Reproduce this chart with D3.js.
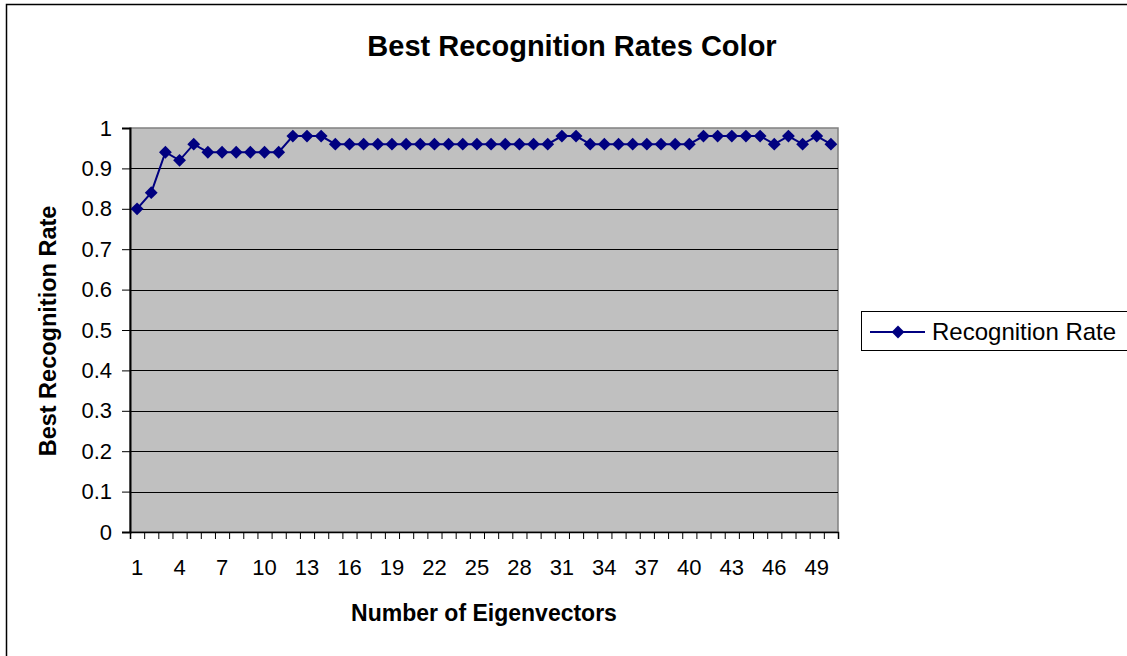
<!DOCTYPE html>
<html>
<head>
<meta charset="utf-8">
<script src="https://cdn.jsdelivr.net/npm/d3@7"></script>
<style>
  body { margin: 0; background: #fff; }
  text { font-family: Arial, "Liberation Sans", sans-serif; fill: #000; }
</style>
</head>
<body>
<div id="chart"></div>
<script>
var categories = d3.range(1, 51);
var rates = [0.80, 0.84, 0.94, 0.92, 0.96, 0.94, 0.94, 0.94, 0.94, 0.94,
             0.94, 0.98, 0.98, 0.98, 0.96, 0.96, 0.96, 0.96, 0.96, 0.96,
             0.96, 0.96, 0.96, 0.96, 0.96, 0.96, 0.96, 0.96, 0.96, 0.96,
             0.98, 0.98, 0.96, 0.96, 0.96, 0.96, 0.96, 0.96, 0.96, 0.96,
             0.98, 0.98, 0.98, 0.98, 0.98, 0.96, 0.98, 0.96, 0.98, 0.96];
var yTicks = [0, 0.1, 0.2, 0.3, 0.4, 0.5, 0.6, 0.7, 0.8, 0.9, 1];
var xLabels = [1, 4, 7, 10, 13, 16, 19, 22, 25, 28, 31, 34, 37, 40, 43, 46, 49];

var W = 1127, H = 656;
var plot = {left: 130, top: 128, right: 838, bottom: 532};
var navy = "#000080";

var svg = d3.select("#chart").append("svg")
    .attr("width", W)
    .attr("height", H);

// outer chart frame
svg.append("rect")
    .attr("x", 6.5).attr("y", 4.5)
    .attr("width", 1300).attr("height", 800)
    .attr("fill", "#fff")
    .attr("stroke", "#000")
    .attr("stroke-width", 1.5);

var x = d3.scaleBand()
    .domain(categories)
    .range([plot.left, plot.right]);

var y = d3.scaleLinear()
    .domain([0, 1])
    .range([plot.bottom, plot.top]);

// plot background
svg.append("rect")
    .attr("x", plot.left).attr("y", plot.top)
    .attr("width", plot.right - plot.left)
    .attr("height", plot.bottom - plot.top)
    .attr("fill", "#c0c0c0")
    .attr("stroke", "#808080")
    .attr("stroke-width", 1.5);

// gridlines
svg.append("g")
  .selectAll("line")
  .data(yTicks.filter(function(d){ return d > 0 && d < 1; }))
  .enter().append("line")
    .attr("x1", plot.left).attr("x2", plot.right)
    .attr("y1", function(d){ return Math.round(y(d)) + 0.5; })
    .attr("y2", function(d){ return Math.round(y(d)) + 0.5; })
    .attr("stroke", "#000")
    .attr("stroke-width", 1);

// y axis
var yAxis = d3.axisLeft(y)
    .tickValues(yTicks)
    .tickSize(8)
    .tickPadding(10)
    .tickFormat(function(d){ return d3.format("")(+d.toFixed(1)); });

var gy = svg.append("g")
    .attr("transform", "translate(" + plot.left + ",0)")
    .call(yAxis);
gy.select(".domain").attr("stroke", "#000").attr("stroke-width", 2);
gy.selectAll(".tick line").attr("stroke", "#000");
gy.selectAll(".tick text")
    .style("font-size", "22px")
    .attr("fill", "#000");

// x axis: ticks between categories, labels every third category
var xBounds = d3.scaleLinear().domain([0, 50]).range([plot.left, plot.right]);
var gx = svg.append("g")
    .attr("transform", "translate(0," + plot.bottom + ")")
    .call(d3.axisBottom(xBounds).tickValues(d3.range(0, 51)).tickSize(7).tickFormat(""));
gx.select(".domain").attr("stroke", "#000").attr("stroke-width", 1.5);
gx.selectAll(".tick line").attr("stroke", "#000");

svg.append("g")
  .selectAll("text")
  .data(xLabels)
  .enter().append("text")
    .attr("x", function(d){ return x(d) + x.bandwidth() / 2; })
    .attr("y", 575)
    .attr("text-anchor", "middle")
    .style("font-size", "22px")
    .text(function(d){ return d; });

// line and markers
var line = d3.line()
    .x(function(d, i){ return x(categories[i]) + x.bandwidth() / 2; })
    .y(function(d){ return y(d); });

svg.append("path")
    .datum(rates)
    .attr("d", line)
    .attr("fill", "none")
    .attr("stroke", navy)
    .attr("stroke-width", 2);

var diamond = d3.symbol().type(d3.symbolDiamond2).size(105);

svg.append("g")
  .selectAll("path")
  .data(rates)
  .enter().append("path")
    .attr("d", diamond)
    .attr("transform", function(d, i){
        return "translate(" + (x(categories[i]) + x.bandwidth() / 2) + "," + y(d) + ")";
    })
    .attr("fill", navy);

// titles
svg.append("text")
    .attr("x", 572).attr("y", 56)
    .attr("text-anchor", "middle")
    .style("font-size", "29px")
    .style("font-weight", "bold")
    .text("Best Recognition Rates Color");

svg.append("text")
    .attr("x", (plot.left + plot.right) / 2).attr("y", 621)
    .attr("text-anchor", "middle")
    .style("font-size", "23px")
    .style("font-weight", "bold")
    .text("Number of Eigenvectors");

svg.append("text")
    .attr("transform", "translate(56,331) rotate(-90)")
    .attr("text-anchor", "middle")
    .style("font-size", "23.5px")
    .style("font-weight", "bold")
    .text("Best Recognition Rate");

// legend
var legend = svg.append("g").attr("transform", "translate(861,311)");
legend.append("rect")
    .attr("x", 0.5).attr("y", 0.5)
    .attr("width", 280).attr("height", 39)
    .attr("fill", "#fff")
    .attr("stroke", "#000")
    .attr("stroke-width", 1);
legend.append("line")
    .attr("x1", 9).attr("x2", 64)
    .attr("y1", 21).attr("y2", 21)
    .attr("stroke", navy)
    .attr("stroke-width", 2);
legend.append("path")
    .attr("d", diamond)
    .attr("transform", "translate(37,21)")
    .attr("fill", navy);
legend.append("text")
    .attr("x", 71).attr("y", 29)
    .style("font-size", "24px")
    .text("Recognition Rate");
</script>
</body>
</html>
